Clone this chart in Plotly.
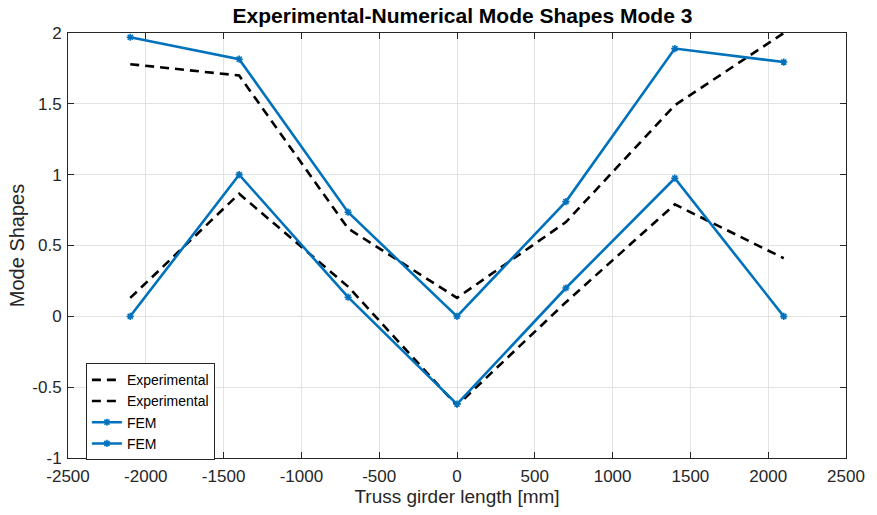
import plotly.graph_objects as go

# Node positions along the truss girder [mm]
x_nodes = [-2100, -1400, -700, 0, 700, 1400, 2100]

# Measured mode shape components
exp_upper = [1.78, 1.70, 0.62, 0.13, 0.665, 1.49, 2.00]
exp_lower = [0.13, 0.865, 0.21, -0.63, 0.10, 0.79, 0.41]

# Finite element mode shape components
fem_upper = [1.97, 1.815, 0.735, 0.0, 0.81, 1.89, 1.795]
fem_lower = [0.0, 1.0, 0.135, -0.62, 0.20, 0.975, 0.0]

x_ticks = [-2500, -2000, -1500, -1000, -500, 0, 500, 1000, 1500, 2000, 2500]
x_tick_text = ["-2500", "-2000", "-1500", "-1000", "-500", "0",
               "500", "1000", "1500", "2000", "2500"]
y_ticks = [-1, -0.5, 0, 0.5, 1, 1.5, 2]
y_tick_text = ["-1", "-0.5", "0", "0.5", "1", "1.5", "2"]

BLUE = "#0072BD"
FONT = "Liberation Sans, Arial, sans-serif"

fig = go.Figure()
for ys in (exp_upper, exp_lower):
    fig.add_trace(go.Scatter(
        x=x_nodes, y=ys, mode="lines", name="Experimental",
        line=dict(color="black", width=2.6, dash="9px,6px"),
    ))
for ys in (fem_upper, fem_lower):
    fig.add_trace(go.Scatter(
        x=x_nodes, y=ys, mode="lines+markers", name="FEM",
        line=dict(color=BLUE, width=2.6),
        marker=dict(symbol="asterisk", size=6, color=BLUE,
                    line=dict(color=BLUE, width=1.6)),
    ))

axis_common = dict(
    showgrid=True, gridcolor="#e3e3e3", gridwidth=1,
    showline=True, linecolor="#262626", linewidth=1, mirror="ticks",
    ticks="inside", ticklen=6, tickcolor="#262626",
    zeroline=False,
    tickfont=dict(family=FONT, size=17, color="#262626"),
)

fig.update_layout(
    width=877, height=515,
    margin=dict(l=68, r=20, t=33, b=57),
    paper_bgcolor="white", plot_bgcolor="white",
    font=dict(family=FONT, color="#262626"),
    title=dict(
        text="<b>Experimental-Numerical Mode Shapes Mode 3</b>",
        x=(68 + 857) / 2 / 877, xanchor="center",
        y=1 - 16 / 515, yanchor="middle",
        font=dict(family=FONT, size=21, color="black"),
    ),
    xaxis=dict(
        range=[-2500, 2500], tickvals=x_ticks, ticktext=x_tick_text,
        ticklabelstandoff=3,
        title=dict(text="Truss girder length [mm]", standoff=2,
                   font=dict(family=FONT, size=19, color="#262626")),
        **axis_common,
    ),
    yaxis=dict(
        range=[-1, 2], tickvals=y_ticks, ticktext=y_tick_text,
        ticklabelstandoff=2,
        title=dict(text="Mode Shapes", standoff=2,
                   font=dict(family=FONT, size=20, color="#262626")),
        **axis_common,
    ),
    showlegend=True,
    legend=dict(
        x=0.023, y=0.223, xanchor="left", yanchor="top",
        bgcolor="white", bordercolor="#262626", borderwidth=1,
        font=dict(family=FONT, size=14, color="black"),
        tracegroupgap=0, itemwidth=30,
    ),
)

fig.write_html("out.html")
